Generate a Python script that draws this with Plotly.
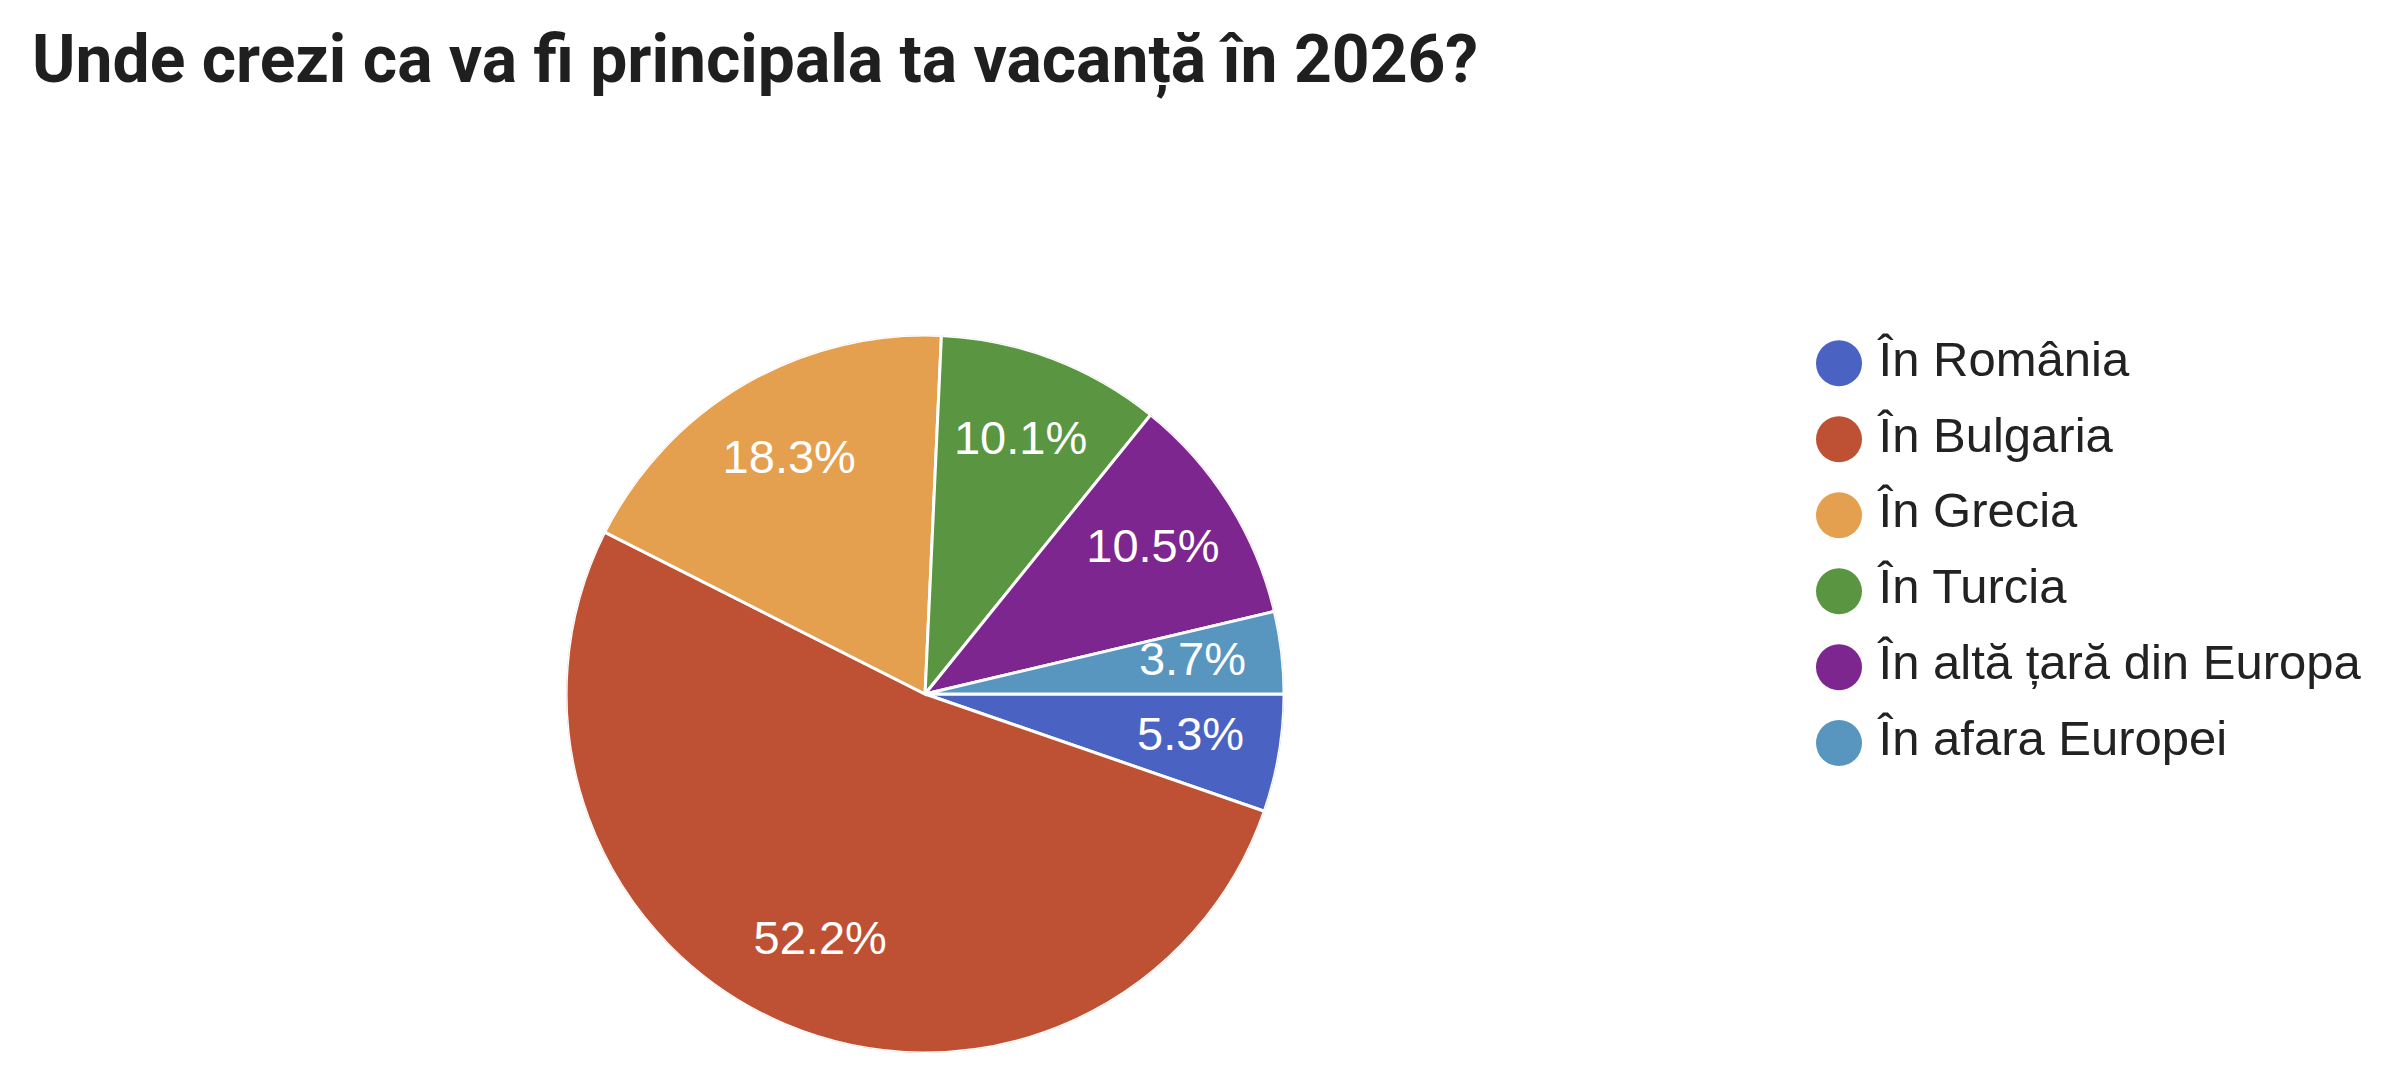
import numpy as np
import plotly.graph_objects as go

# survey answers, clockwise from 3 o'clock
labels = ["În România", "În Bulgaria", "În Grecia", "În Turcia",
          "În altă țară din Europa", "În afara Europei"]
values = [5.3, 52.2, 18.3, 10.1, 10.5, 3.7]
colors = ["#4A63C3", "#BE5134", "#E4A04E", "#5A9541", "#7E268F", "#5896C0"]

title_text = "Unde crezi ca va fi principala ta vacanță în 2026?"

W, H = 2387, 1085

# slice angles (degrees, clockwise from 3 o'clock)
vals = np.array(values)
total = vals.sum()
widths = vals / total * 360
mids = (np.cumsum(vals) - vals / 2) / total * 360

pie_domain = dict(x=[0.2338, 0.5346], y=[0.0369, 0.6986])

fig = go.Figure()

## slices
fig.add_trace(go.Barpolar(
    r=[1] * len(values),
    theta=mids,
    width=widths,
    marker=dict(color=colors, line=dict(color="white", width=3)),
    customdata=values,
    text=labels,
    hovertemplate="%{text}: %{customdata}%<extra></extra>",
    showlegend=False,
))

## percent labels inside the slices
fig.add_trace(go.Scatterpolar(
    r=[0.75] * len(values),
    theta=mids,
    mode="text",
    text=["%.1f%%" % v for v in values],
    textfont=dict(family="Liberation Sans, Arial", size=47, color="white"),
    hoverinfo="skip",
    showlegend=False,
))

## legend drawn as a column of circles on a hidden axis
fig.add_trace(go.Scatter(
    x=[0] * len(labels),
    y=labels,
    mode="markers+text",
    marker=dict(size=46, color=colors),
    text=["\u2009" + l for l in labels],
    textposition="middle right",
    textfont=dict(family="Liberation Sans, Arial", size=49, color="#222222"),
    hoverinfo="skip",
    showlegend=False,
    cliponaxis=False,
))

fig.update_layout(
    width=W,
    height=H,
    margin=dict(l=0, r=0, t=0, b=0),
    paper_bgcolor="white",
    plot_bgcolor="white",
    title=dict(
        text="<b>" + title_text + "</b>",
        x=24 / W,
        xanchor="left",
        y=0.9535,
        yanchor="middle",
        font=dict(family="Roboto", size=66, color="#1F1F1F"),
    ),
    polar=dict(
        domain=pie_domain,
        bgcolor="white",
        bargap=0,
        angularaxis=dict(direction="clockwise", rotation=0, visible=False,
                         showgrid=False, thetaunit="degrees"),
        radialaxis=dict(range=[0, 1], visible=False, showgrid=False),
    ),
    xaxis=dict(domain=[1831 / W, 1.0], range=[0, 1], visible=False, fixedrange=True),
    yaxis=dict(domain=[0.2875, 0.7075], type="category", range=[5.5, -0.5],
               visible=False, fixedrange=True),
)

fig.write_html("out.html")
